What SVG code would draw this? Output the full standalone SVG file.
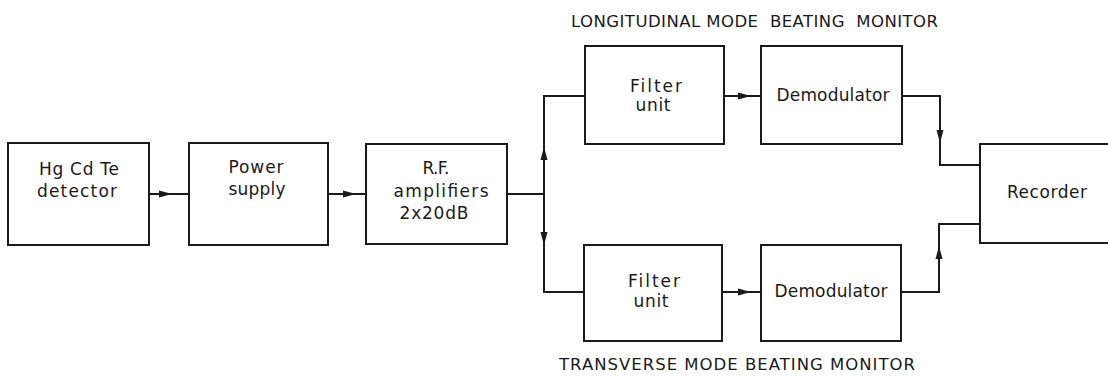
<svg xmlns="http://www.w3.org/2000/svg" xmlns:xlink="http://www.w3.org/1999/xlink" width="1108" height="376" viewBox="0 0 1108 376">
<style>
.box{fill:#fff;stroke:#1a1a1a;stroke-width:2}
.ln{fill:none;stroke:#1a1a1a;stroke-width:2}
.t{font-family:"DejaVu Sans","Liberation Sans",sans-serif;font-size:17px;fill:#1a1a1a;text-anchor:middle}
.h{font-family:"DejaVu Sans","Liberation Sans",sans-serif;font-size:16.5px;fill:#1a1a1a}
</style>
<defs>
<path id="ah" d="M0,0 L-13,-3.5 L-13,3.5 Z" fill="#1a1a1a"/>
</defs>
<rect width="1108" height="376" fill="#fff"/>
<g id="connectors">
<path class="ln" d="M149,194 H189"/>
<path class="ln" d="M328,194 H366"/>
<path class="ln" d="M507,194 H544"/>
<path class="ln" d="M585,96 H544 V292 H584"/>
<path class="ln" d="M724,96 H761"/>
<path class="ln" d="M722,292 H761"/>
<path class="ln" d="M902,96 H940 V165 H980"/>
<path class="ln" d="M901,292 H939 V224 H980"/>
<use xlink:href="#ah" transform="translate(172,194)"/>
<use xlink:href="#ah" transform="translate(356,194)"/>
<use xlink:href="#ah" transform="translate(544,147) rotate(-90)"/>
<use xlink:href="#ah" transform="translate(544,245) rotate(90)"/>
<use xlink:href="#ah" transform="translate(751,96)"/>
<use xlink:href="#ah" transform="translate(751,292)"/>
<use xlink:href="#ah" transform="translate(940,143) rotate(90)"/>
<use xlink:href="#ah" transform="translate(939,246) rotate(-90)"/>
</g>
<g id="detector">
<rect class="box" x="8" y="143" width="141" height="102"/>
<text class="t" x="79" y="175" textLength="80" lengthAdjust="spacing">Hg Cd Te</text>
<text class="t" x="77" y="197" textLength="80" lengthAdjust="spacing">detector</text>
</g>
<g id="power">
<rect class="box" x="189" y="143" width="139" height="102"/>
<text class="t" x="256" y="173" textLength="55" lengthAdjust="spacing">Power</text>
<text class="t" x="257" y="195" textLength="57" lengthAdjust="spacing">supply</text>
</g>
<g id="rf">
<rect class="box" x="366" y="144" width="141" height="100"/>
<text class="t" x="436" y="174" textLength="27" lengthAdjust="spacing">R.F.</text>
<text class="t" x="441" y="197" textLength="95" lengthAdjust="spacing">amplifiers</text>
<text class="t" x="434" y="219" textLength="69" lengthAdjust="spacing">2x20dB</text>
</g>
<g id="filter1">
<rect class="box" x="585" y="46" width="139" height="98"/>
<text class="t" x="656" y="92" textLength="52" lengthAdjust="spacing">Filter</text>
<text class="t" x="653" y="111" textLength="35" lengthAdjust="spacing">unit</text>
</g>
<g id="demod1">
<rect class="box" x="761" y="46" width="141" height="98"/>
<text class="t" x="833" y="101" textLength="113" lengthAdjust="spacing">Demodulator</text>
</g>
<g id="filter2">
<rect class="box" x="584" y="245" width="138" height="96"/>
<text class="t" x="654" y="287" textLength="52" lengthAdjust="spacing">Filter</text>
<text class="t" x="651" y="307" textLength="35" lengthAdjust="spacing">unit</text>
</g>
<g id="demod2">
<rect class="box" x="761" y="245" width="140" height="96"/>
<text class="t" x="831" y="297" textLength="113" lengthAdjust="spacing">Demodulator</text>
</g>
<g id="recorder">
<rect class="box" x="980" y="144" width="140" height="99"/>
<text class="t" x="1047" y="198" textLength="80" lengthAdjust="spacing">Recorder</text>
</g>
<g id="labels">
<text class="h" x="571" y="27" textLength="367" lengthAdjust="spacing" xml:space="preserve">LONGITUDINAL MODE  BEATING  MONITOR</text>
<text class="h" x="559" y="370" textLength="356" lengthAdjust="spacing">TRANSVERSE MODE BEATING MONITOR</text>
</g>
</svg>
